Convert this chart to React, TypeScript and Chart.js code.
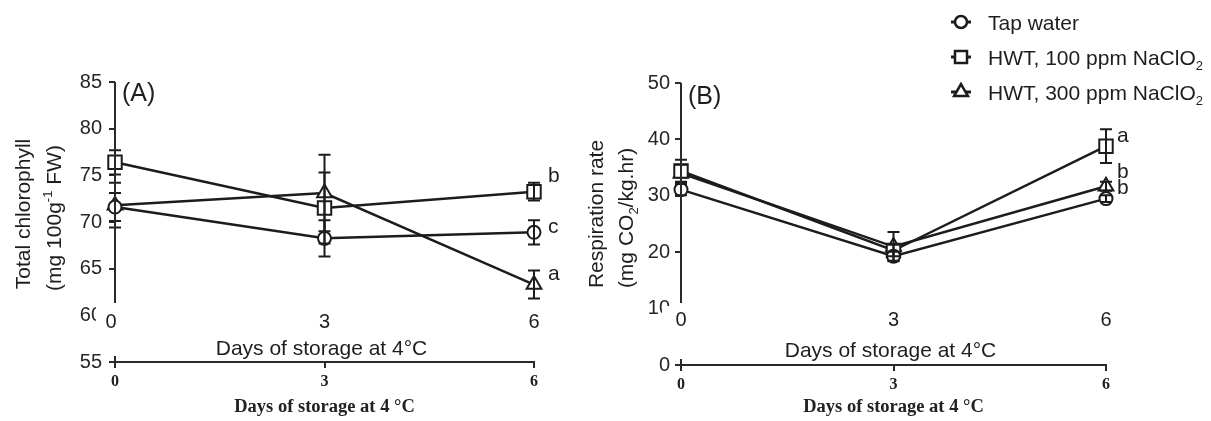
import React, { useEffect, useRef } from "react";
import { Chart, registerables } from "chart.js";

Chart.register(...registerables);

// ---------- data ----------
const days = [0, 3, 6];
const seriesNames = ["Tap water", "HWT, 100 ppm NaClO", "HWT, 300 ppm NaClO"];
const seriesSubs = ["", "2", "2"];
const pointStyles = ["circle", "rect", "triangle"];

// Panel A: total chlorophyll
const chlTap = [71.6, 68.25, 68.9];
const chlTapErr = [1.5, 1.95, 1.3];
const chl100 = [76.4, 71.5, 73.25];
const chl100Err = [1.3, 3.8, 0.95];
const chl300 = [71.8, 73.1, 63.3];
const chl300Err = [2.4, 4.1, 1.5];
const chlLetters = ["c", "b", "a"];
const chlLetterY = [68.8, 74.3, 63.8];

// Panel B: respiration rate
const resTap = [31.1, 19.3, 29.5];
const resTapErr = [1.0, 0.8, 0.6];
const res100 = [34.4, 20.3, 38.8];
const res100Err = [2.0, 1.0, 3.0];
const res300 = [34.0, 21.0, 31.7];
const res300Err = [1.5, 2.6, 0.8];
const resLetters = ["b", "a", "b"];
const resLetterY = [30.4, 39.5, 33.2];

const dayOverlayLabels = ["0", "3", "6"];

// ---------- styles ----------
const SANS = '"Liberation Sans", Arial, Helvetica, sans-serif';
const SERIF = '"Liberation Serif", "Times New Roman", serif';
const LINE = "#1c1c1c";
const AXIS = "#2a2a2a";
const TEXT = "#1e1e1e";
const pointRadii = [6.5, 9.5, 8.5];

type Seg = { t: string; sup?: boolean; sub?: boolean };

function drawRich(ctx: CanvasRenderingContext2D, segs: Seg[], x: number, y: number, size: number, align: "left" | "center", rotate = false) {
  ctx.save();
  ctx.translate(x, y);
  if (rotate) ctx.rotate(-Math.PI / 2);
  const main = `${size}px ${SANS}`;
  const small = `${Math.round(size * 0.62)}px ${SANS}`;
  const widths = segs.map((s) => {
    ctx.font = s.sup || s.sub ? small : main;
    return ctx.measureText(s.t).width;
  });
  const total = widths.reduce((a, b) => a + b, 0);
  let cx = align === "center" ? -total / 2 : 0;
  ctx.textAlign = "left";
  ctx.textBaseline = "alphabetic";
  ctx.fillStyle = TEXT;
  const base = size * 0.36;
  segs.forEach((s, i) => {
    ctx.font = s.sup || s.sub ? small : main;
    const dy = s.sup ? -size * 0.42 : s.sub ? size * 0.28 : 0;
    ctx.fillText(s.t, cx, base + dy);
    cx += widths[i];
  });
  ctx.restore();
}

function drawMarker(ctx: CanvasRenderingContext2D, style: string, x: number, y: number, r: number) {
  ctx.beginPath();
  if (style === "circle") {
    ctx.arc(x, y, r, 0, Math.PI * 2);
  } else if (style === "rect") {
    const s = r * Math.SQRT1_2;
    ctx.rect(x - s, y - s, 2 * s, 2 * s);
  } else {
    const w = r;
    ctx.moveTo(x, y - r);
    ctx.lineTo(x + Math.sin((2 * Math.PI) / 3) * w, y - Math.cos((2 * Math.PI) / 3) * r);
    ctx.lineTo(x + Math.sin((4 * Math.PI) / 3) * w, y - Math.cos((4 * Math.PI) / 3) * r);
    ctx.closePath();
  }
  ctx.fillStyle = "#fff";
  ctx.fill();
  ctx.lineWidth = 2.5;
  ctx.strokeStyle = LINE;
  ctx.stroke();
}

type Panel = {
  id: string;
  width: number;
  yMin: number;
  yMax: number;
  yStep: number;
  hiddenTick: number;
  series: number[][];
  errs: number[][];
  letters: string[];
  letterY: number[];
  yWidth: number;
  padRight: number;
  padTop: number;
  xHeight: number;
  yTickPad: number;
  title1: Seg[];
  title2: Seg[];
  titleX: [number, number];
  label: string;
  labelY: number;
  coverX: [number, number];
  overlayY: number;
  overlayTitleY: number;
  firstOverlayShift: number;
  letterX: number;
  legend: boolean;
};

function makeConfig(p: Panel): any {
  const plugin = {
    id: "overlay_" + p.id,
    beforeDraw(chart: any) {
      const ctx = chart.ctx;
      ctx.save();
      ctx.fillStyle = "#fff";
      ctx.fillRect(0, 0, chart.width, chart.height);
      ctx.restore();
    },
    afterDatasetsDraw(chart: any) {
      const ctx = chart.ctx;
      const xs = chart.scales.x;
      const ys = chart.scales.y;
      ctx.save();
      ctx.strokeStyle = LINE;
      ctx.lineWidth = 2;
      p.series.forEach((vals, i) => {
        vals.forEach((v, j) => {
          const e = p.errs[i][j];
          const x = xs.getPixelForValue(days[j]);
          const yt = ys.getPixelForValue(v + e);
          const yb = ys.getPixelForValue(v - e);
          ctx.beginPath();
          ctx.moveTo(x, yt);
          ctx.lineTo(x, yb);
          ctx.moveTo(x - 6, yt);
          ctx.lineTo(x + 6, yt);
          ctx.moveTo(x - 6, yb);
          ctx.lineTo(x + 6, yb);
          ctx.stroke();
        });
      });
      ctx.restore();
    },
    afterDraw(chart: any) {
      const ctx = chart.ctx;
      const xs = chart.scales.x;
      const ys = chart.scales.y;
      const area = chart.chartArea;
      ctx.save();
      // y axis line, cut off above the lower axis
      ctx.strokeStyle = AXIS;
      ctx.lineWidth = 2;
      ctx.beginPath();
      ctx.moveTo(area.left, area.top);
      ctx.lineTo(area.left, 303);
      // upper half of the "+" at the origin
      ctx.moveTo(area.left, area.bottom - 6);
      ctx.lineTo(area.left, area.bottom);
      ctx.stroke();

      // cover part of the clipped tick label
      ctx.fillStyle = "#fff";
      ctx.fillRect(p.coverX[0], 306, p.coverX[1] - p.coverX[0], 26);

      // overlay x labels and title
      ctx.fillStyle = TEXT;
      ctx.font = `20px ${SANS}`;
      ctx.textAlign = "center";
      ctx.textBaseline = "alphabetic";
      days.forEach((d, j) => {
        const x = xs.getPixelForValue(d) + (j === 0 ? p.firstOverlayShift : 0);
        ctx.fillText(dayOverlayLabels[j], x, p.overlayY + 7);
      });
      ctx.font = `21px ${SANS}`;
      ctx.fillText("Days of storage at 4°C", (xs.left + xs.right) / 2 - 3, p.overlayTitleY + 7.5);

      // y axis titles
      drawRich(ctx, p.title1, p.titleX[0], 214, 21, "center", true);
      drawRich(ctx, p.title2, p.titleX[1], 218, 21, "center", true);

      // panel label
      ctx.fillStyle = TEXT;
      ctx.font = `25px ${SANS}`;
      ctx.textAlign = "left";
      ctx.textBaseline = "alphabetic";
      ctx.fillText(p.label, area.left + 7, p.labelY + 9);

      // significance letters
      ctx.font = `21px ${SANS}`;
      p.letters.forEach((l, i) => {
        ctx.fillText(l, p.letterX, ys.getPixelForValue(p.letterY[i]));
      });

      // legend
      if (p.legend) {
        const rows = [22, 57, 92];
        rows.forEach((ry, i) => {
          ctx.strokeStyle = LINE;
          ctx.lineWidth = 3;
          ctx.beginPath();
          ctx.moveTo(381, ry);
          ctx.lineTo(401, ry);
          ctx.stroke();
          drawMarker(ctx, pointStyles[i], 391, ry, i === 0 ? 6 : i === 1 ? 8.5 : 8);
          drawRich(ctx, [{ t: seriesNames[i] }, ...(seriesSubs[i] ? [{ t: seriesSubs[i], sub: true }] : [])], 418, ry, 21, "left");
        });
      }
      ctx.restore();
    },
  };

  return {
    type: "line",
    data: {
      datasets: p.series.map((vals, i) => ({
        label: seriesNames[i] + seriesSubs[i],
        data: days.map((d, j) => ({ x: d, y: vals[j] })),
        borderColor: LINE,
        borderWidth: 2.5,
        pointStyle: pointStyles[i],
        pointRadius: pointRadii[i],
        pointBackgroundColor: "#fff",
        pointBorderColor: LINE,
        pointBorderWidth: 2,
        tension: 0,
        fill: false,
        clip: false,
      })),
    },
    options: {
      responsive: false,
      animation: false,
      events: [],
      layout: { padding: { left: 0, right: p.padRight, top: p.padTop, bottom: 0 } },
      plugins: { legend: { display: false }, tooltip: { enabled: false }, title: { display: false } },
      scales: {
        x: {
          type: "linear",
          min: 0,
          max: 6,
          afterBuildTicks: (s: any) => {
            s.ticks = days.map((v) => ({ value: v }));
          },
          ticks: {
            callback: (v: any) => String(v),
            font: { family: SERIF, size: 16, weight: "bold" },
            color: "#222",
            padding: 4,
            maxRotation: 0,
            autoSkip: false,
          },
          grid: { display: true, drawOnChartArea: false, drawTicks: true, tickLength: 6, color: AXIS, lineWidth: 2 },
          border: { display: true, color: AXIS, width: 2 },
          title: {
            display: true,
            text: "Days of storage at 4 °C",
            font: { family: SERIF, size: 18.5, weight: "bold" },
            color: "#222",
            padding: { top: 0, bottom: 3 },
          },
          afterFit: (s: any) => {
            s.height = p.xHeight;
          },
        },
        y: {
          type: "linear",
          min: p.yMin,
          max: p.yMax,
          ticks: { stepSize: p.yStep, font: { family: SANS, size: 20 }, color: "#262626", padding: p.yTickPad },
          grid: {
            display: true,
            drawOnChartArea: false,
            drawTicks: true,
            tickLength: 6,
            lineWidth: 2,
            color: (c: any) => (c.tick && c.tick.value === p.hiddenTick ? "rgba(0,0,0,0)" : AXIS),
          },
          border: { display: false },
          afterFit: (s: any) => {
            s.width = p.yWidth;
          },
        },
      },
    },
    plugins: [plugin],
  };
}

const panelA: Panel = {
  id: "A",
  width: 570,
  yMin: 55,
  yMax: 85,
  yStep: 5,
  hiddenTick: 60,
  series: [chlTap, chl100, chl300],
  errs: [chlTapErr, chl100Err, chl300Err],
  letters: chlLetters,
  letterY: chlLetterY,
  yWidth: 115,
  padRight: 36,
  padTop: 82,
  xHeight: 59,
  yTickPad: 7,
  title1: [{ t: "Total chlorophyll" }],
  title2: [{ t: "(mg 100g" }, { t: "-1", sup: true }, { t: " FW)" }],
  titleX: [22, 53],
  label: "(A)",
  labelY: 92,
  coverX: [96, 121],
  overlayY: 321,
  overlayTitleY: 347,
  firstOverlayShift: -4,
  letterX: 548,
  legend: false,
};

const panelB: Panel = {
  id: "B",
  width: 641,
  yMin: 0,
  yMax: 50,
  yStep: 10,
  hiddenTick: 10,
  series: [resTap, res100, res300],
  errs: [resTapErr, res100Err, res300Err],
  letters: resLetters,
  letterY: resLetterY,
  yWidth: 111,
  padRight: 105,
  padTop: 83,
  xHeight: 56,
  yTickPad: 5,
  title1: [{ t: "Respiration rate" }],
  title2: [{ t: "(mg CO" }, { t: "2", sub: true }, { t: "/kg.hr)" }],
  titleX: [25, 55],
  label: "(B)",
  labelY: 95,
  coverX: [92, 120],
  overlayY: 319,
  overlayTitleY: 349,
  firstOverlayShift: 0,
  letterX: 547,
  legend: true,
};

function PanelChart({ panel, left }: { panel: Panel; left: number }) {
  const ref = useRef<HTMLCanvasElement | null>(null);
  useEffect(() => {
    if (!ref.current) return;
    const chart = new Chart(ref.current, makeConfig(panel));
    return () => chart.destroy();
  }, [panel]);
  return (
    <canvas
      ref={ref}
      width={panel.width}
      height={421}
      style={{ position: "absolute", left, top: 0, width: panel.width, height: 421, display: "block" }}
    />
  );
}

export default function App() {
  return (
    <div style={{ position: "fixed", left: 0, top: 0, width: 1211, height: 421, background: "#fff", overflow: "hidden" }}>
      <PanelChart panel={panelA} left={0} />
      <PanelChart panel={panelB} left={570} />
    </div>
  );
}
